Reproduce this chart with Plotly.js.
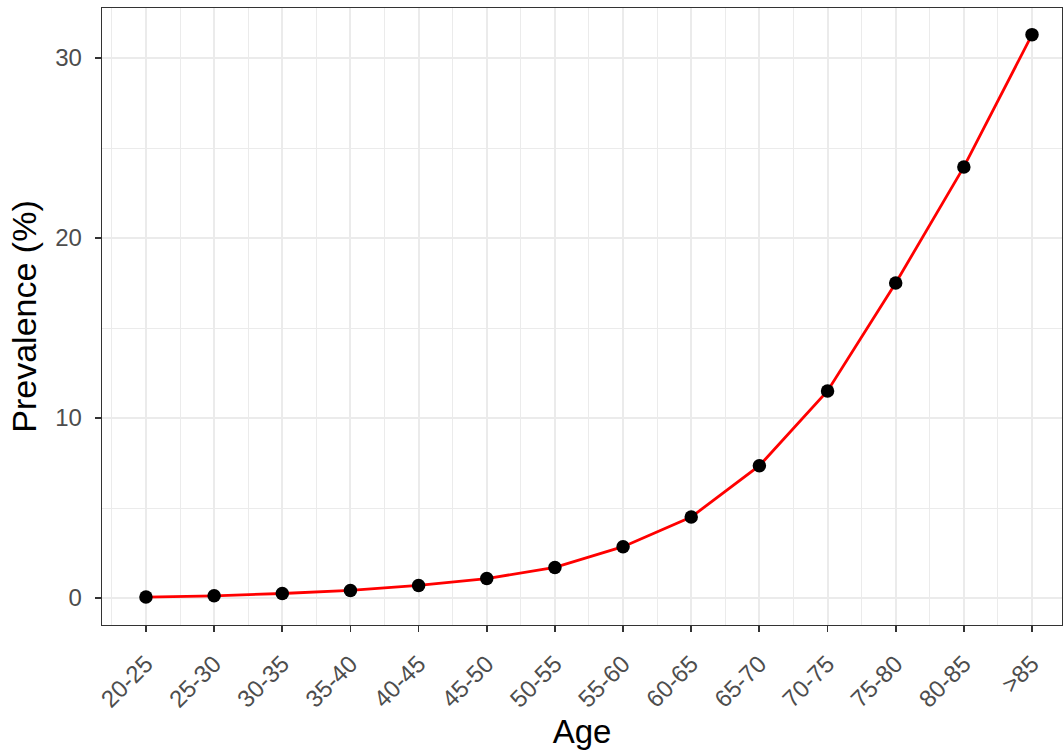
<!DOCTYPE html>
<html><head><meta charset="utf-8">
<script src="https://cdn.plot.ly/plotly-3.0.1.min.js"></script>
<style>html,body{margin:0;padding:0;background:#fff}#c{width:1064px;height:755px}</style>
</head><body><div id="c"></div>
<script>
const ageGroups = ["20-25","25-30","30-35","35-40","40-45","45-50","50-55","55-60","60-65","65-70","70-75","75-80","80-85",">85"];
const prevalence = [0.05, 0.12, 0.25, 0.42, 0.7, 1.08, 1.7, 2.85, 4.5, 7.35, 11.5, 17.5, 23.95, 31.3];
const yTicks = [0, 10, 20, 30];
const xIdx = ageGroups.map((_, i) => i + 1);

const trace = {
  x: xIdx, y: prevalence, type: 'scatter', mode: 'lines+markers',
  line: {color: '#ff0000', width: 2.8, shape: 'linear'},
  marker: {color: '#000000', size: 13.5},
  hoverinfo: 'skip'
};
const gridc = '#ebebeb';
const layout = {
  width: 1064, height: 755,
  margin: {l: 102, r: 2, t: 8, b: 130},
  paper_bgcolor: '#fff', plot_bgcolor: '#fff',
  showlegend: false,
  font: {family: 'Liberation Sans, Arial, sans-serif'},
  xaxis: {
    range: [0.355, 14.44], tickmode: 'array', tickvals: xIdx, ticktext: ageGroups,
    tickangle: -45, ticks: 'outside', ticklen: 6, tickwidth: 1.8, tickcolor: '#333',
    tickfont: {size: 24, color: '#4d4d4d'}, ticklabelstandoff: 8,
    showgrid: true, gridcolor: gridc, gridwidth: 2,
    minor: {tickmode: 'linear', tick0: 0.5, dtick: 1, showgrid: true, gridcolor: gridc, gridwidth: 1, ticklen: 0},
    showline: true, linecolor: '#333', linewidth: 1.3, mirror: true, zeroline: false,
    title: {text: 'Age', font: {size: 33, color: '#000'}, standoff: 5}
  },
  yaxis: {
    range: [-1.5, 32.78], tickmode: 'array', tickvals: yTicks,
    ticks: 'outside', ticklen: 6, tickwidth: 1.8, tickcolor: '#333',
    tickfont: {size: 24, color: '#4d4d4d'}, ticklabelstandoff: 8,
    showgrid: true, gridcolor: gridc, gridwidth: 2,
    minor: {tickmode: 'linear', tick0: 5, dtick: 10, showgrid: true, gridcolor: gridc, gridwidth: 1, ticklen: 0},
    showline: true, linecolor: '#333', linewidth: 1.3, mirror: true, zeroline: false,
    title: {text: 'Prevalence (%)', font: {size: 34, color: '#000'}, standoff: 8}
  }
};
Plotly.newPlot('c', [trace], layout, {displayModeBar: false, staticPlot: true});
</script></body></html>
